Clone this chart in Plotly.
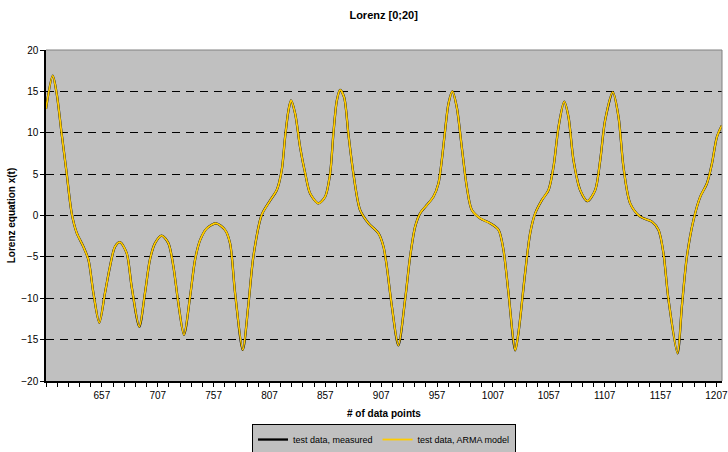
import plotly.graph_objects as go

# data point index (x) and Lorenz x(t) values
data_index = [607, 613, 616.6, 621, 625.5, 630, 634.5, 640.4, 645, 649.4, 654.7, 659.8, 664.3, 668.8,
              673.2, 679.2, 683.6, 690.5, 695.6, 700, 704.6, 710.5, 716.5, 721, 725.4, 730.5, 736,
              740.4, 745, 751, 759.2, 767.2, 771.7, 776.2, 783.1, 788, 792.6, 800, 807.5, 813.5,
              818, 821, 824, 826.3, 830, 834.4, 839, 843.4, 850.8, 856.8, 861.3, 864.2, 867.3,
              870.2, 873.8, 877.6, 882.1, 888.1, 895.6, 904.5, 909, 912, 916.5, 922.4, 928.4,
              932.9, 937.4, 941.8, 947.8, 953.7, 958.2, 961.2, 964.2, 967.2, 970.7, 974.6, 979.1,
              983.6, 988.1, 995.5, 1004.5, 1012, 1016.4, 1020.9, 1026.9, 1029.8, 1035.8, 1040.3,
              1044.8, 1050.8, 1056.7, 1061.2, 1065.7, 1070.8, 1074.6, 1079.1, 1085.1, 1091.6,
              1098.5, 1103, 1107.4, 1114.3, 1119.4, 1123.8, 1129.8, 1138.8, 1149.2, 1155.2,
              1159.6, 1164.1, 1172.2, 1176.1, 1180.6, 1186.5, 1192.5, 1198.5, 1203, 1207.4, 1211.9]

measured = [12.9, 16.9, 14.7, 9.9, 5.1, 0.26, -2.1, -3.75, -5.35, -9.35, -12.95, -9.35, -6.15, -3.75,
            -3.22, -4.55, -8.55, -13.45, -9.35, -5.35, -3.34, -2.42, -3.34, -6.15, -10.55, -14.42,
            -9.75, -5.35, -2.95, -1.54, -0.94, -1.74, -3.34, -9.35, -16.25, -10.95, -4.95, 0.06,
            1.8, 3.06, 5.5, 9.5, 12.7, 13.9, 12.3, 8.27, 5.07, 2.67, 1.47, 2.26, 5.07, 9.88, 13.9,
            15.17, 14.3, 9.88, 5.07, 0.66, -0.94, -2.14, -3.75, -6.15, -10.95, -15.7, -10.15,
            -4.95, -1.34, 0.26, 1.26, 2.26, 3.87, 6.67, 10.28, 13.5, 15.0, 13.1, 8.27, 3.46, 0.66,
            -0.34, -0.94, -1.74, -4.15, -9.35, -16.3, -14.2, -6.95, -2.14, 0.26, 1.86, 3.06, 5.87,
            10.7, 13.76, 11.9, 6.67, 3.06, 1.74, 3.06, 6.67, 11.5, 14.9, 11.9, 5.87, 1.47, -0.14,
            -0.74, -1.74, -4.55, -10.15, -16.65, -10.95, -4.95, -0.54, 2.26, 3.87, 6.27, 9.47, 10.88]

arma_model = list(measured)  # the model curve overlaps the measured one

x_tick_vals = [657, 707, 757, 807, 857, 907, 957, 1007, 1057, 1107, 1157, 1207]
y_tick_vals = [-20, -15, -10, -5, 0, 5, 10, 15, 20]

FONT = "Liberation Sans, Arial, sans-serif"

fig = go.Figure()
fig.add_trace(go.Scatter(x=data_index, y=measured, mode="lines", name="test data, measured",
                         line=dict(color="black", width=2.3, shape="spline", smoothing=0.8)))
fig.add_trace(go.Scatter(x=data_index, y=arma_model, mode="lines", name="test data, ARMA model",
                         line=dict(color="#FFCC00", width=1.8, shape="spline", smoothing=0.8)))

fig.update_layout(
    width=728, height=452,
    margin=dict(l=46, r=6, t=50, b=71, autoexpand=False),
    paper_bgcolor="white",
    plot_bgcolor="#C0C0C0",
    font=dict(family=FONT, size=10, color="black"),
    title=dict(text="<b>Lorenz [0;20]</b>", x=0.527, xanchor="center", y=0.967, yanchor="middle",
               font=dict(size=11, family=FONT)),
    showlegend=True,
    legend=dict(orientation="h", x=0.5, xanchor="center", y=-0.13, yanchor="top",
                bgcolor="#C0C0C0", bordercolor="black", borderwidth=1,
                font=dict(size=9, family=FONT), itemwidth=30, tracegroupgap=0),
    xaxis=dict(range=[607, 1212], tickmode="array", tickvals=x_tick_vals,
               ticks="outside", ticklen=4, tickcolor="black", showgrid=False, zeroline=False,
               showline=True, linecolor="black", linewidth=1.5,
               minor=dict(dtick=10, tick0=607, ticks="outside", ticklen=4, tickcolor="black",
                          showgrid=False),
               tickfont=dict(size=10)),
    yaxis=dict(range=[-20, 20], tickmode="array", tickvals=y_tick_vals,
               ticks="outside", ticklen=4, tickcolor="black",
               showgrid=True, gridcolor="black", gridwidth=1, griddash="8px,6px",
               zeroline=False, showline=True, linecolor="black", linewidth=1.5,
               title=dict(text="<b>Lorenz equation x(t)</b>", font=dict(size=10, family=FONT),
                          standoff=4),
               tickfont=dict(size=10)),
    annotations=[dict(text="<b># of data points</b>", xref="paper", yref="paper",
                      x=0.5, y=-0.097, xanchor="center", yanchor="middle", showarrow=False,
                      font=dict(size=10, family=FONT))],
)

# gray plot area border on top and right (Excel style)
fig.add_shape(type="line", xref="paper", yref="paper", x0=0, x1=1, y0=1, y1=1,
              line=dict(color="#808080", width=1))
fig.add_shape(type="line", xref="paper", yref="paper", x0=1, x1=1, y0=0, y1=1,
              line=dict(color="#808080", width=1))

fig.write_html("out.html")
